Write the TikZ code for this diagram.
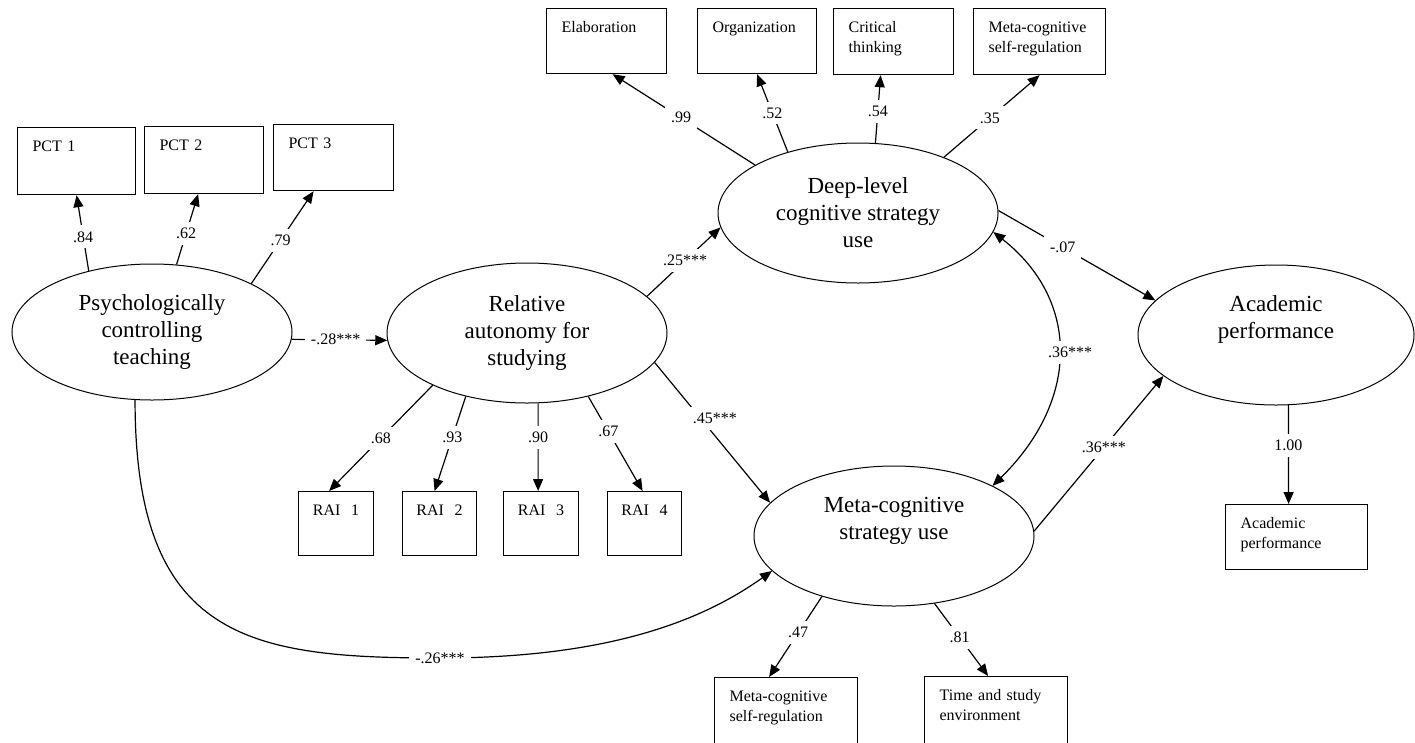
\documentclass[tikz,border=0pt]{standalone}
\usepackage{fontspec}
\setmainfont{Liberation Serif}
\usetikzlibrary{arrows.meta,shapes.geometric}

\begin{document}
\begin{tikzpicture}[
  x=1pt,y=-1pt,
  lat/.style={ellipse,draw,line width=1pt,minimum width=280pt,minimum height=140pt,inner sep=0pt,align=center,font=\fontsize{23}{27}\selectfont},
  obs/.style={draw,line width=1.2pt,anchor=north west,align=left,inner xsep=15pt,inner ysep=0pt,text width=90pt,text height=24pt,text depth=42pt,font=\fontsize{16}{20}\selectfont},
  rai/.style={obs,align=center,inner xsep=5pt,text width=65pt,text depth=40pt},
  arr/.style={-{Triangle[length=12pt,width=10pt]},line width=1.2pt},
  dbl/.style={{Triangle[length=12pt,width=10pt]}-{Triangle[length=12pt,width=10pt]},line width=1.2pt},
  coef/.style={fill=white,inner sep=6pt,font=\fontsize{16}{18}\selectfont}
]
\useasboundingbox (0,0) rectangle (1415,742);

\node[lat,minimum height=136pt] (pct) at (152,332) {Psychologically\\controlling\\teaching};
\node[lat] (ras) at (527,333) {Relative\\autonomy for\\studying};
\node[lat] (deep) at (858,213) {Deep-level\\cognitive strategy\\use};
\node[lat] (meta) at (894,536) {Meta-cognitive\\strategy use\\\strut};
\node[lat,minimum width=276pt] (acad) at (1276,335) {Academic\\performance\\\strut};

\node[obs,text width=88pt,text depth=43pt] (pct1) at (17,127) {PCT 1};
\node[obs,text width=89pt,text depth=43pt] (pct2) at (144,126) {PCT 2};
\node[obs] (pct3) at (273,124) {PCT 3};

\node[obs,text depth=41pt] (elab) at (546,8) {Elaboration};
\node[obs,text width=89pt,text depth=41pt] (orga) at (697,8) {Organization};
\node[obs] (crit) at (833,8) {Critical\\thinking};
\node[obs,text width=102pt] (msr) at (973,8) {Meta-cognitive\\self-regulation};

\node[rai] (rai1) at (298,491) {RAI~~1};
\node[rai,text width=64pt] (rai2) at (402,491) {RAI~~2};
\node[rai] (rai3) at (503,491) {RAI~~3};
\node[rai,text width=64pt] (rai4) at (607,491) {RAI~~4};

\node[obs,text width=113pt,text depth=48pt] (msr2) at (714,677) {Meta-cognitive\\self-regulation};
\node[obs,text width=113pt,text depth=48pt] (tse) at (924,676) {Time and study\\environment};
\node[obs,text width=112pt,text depth=41pt] (perf) at (1225,504) {Academic\\performance};

\draw[arr] (pct.136) -- node[coef,pos=.45]{.84} (pct1.south);
\draw[arr] (pct.70) -- node[coef,pos=.44]{.62} ([xshift=-6pt]pct2.south);
\draw[arr] (pct.26) -- node[coef,pos=.47]{.79} ([xshift=-20pt]pct3.south);
\draw[arr] (pct.-3) -- node[coef,pos=.46]{-.28***} (ras.183);

\draw[arr] (deep.155) -- node[coef,pos=.52]{.99} ([xshift=6pt]elab.south);
\draw[arr] (deep.139) -- node[coef,pos=.5]{.52} (orga.south);
\draw[arr] (deep.76) -- node[coef,pos=.46]{.54} ([xshift=-13pt]crit.south);
\draw[arr] (deep.33) -- node[coef,pos=.48]{.35} (msr.south);

\draw[arr] (ras.209) -- node[coef,pos=.5]{.68} ([xshift=-7pt]rai1.north);
\draw[arr] (ras.226) -- node[coef,pos=.43]{.93} ([xshift=-5pt]rai2.north);
\draw[arr] (ras.279) -- node[coef,pos=.39]{.90} ([xshift=-3pt]rai3.north);
\draw[arr] (ras.314) -- node[coef,pos=.37]{.67} ([xshift=-2pt]rai4.north);

\draw[arr] (ras.17) -- node[coef,pos=.52]{.25***} (deep.186);
\draw[arr] (ras.-13) -- node[coef,pos=.4,xshift=14pt]{.45***} (meta.165);
\draw[arr] (deep.1) -- node[coef,pos=.41]{-.07} (acad.164);
\draw[arr] (meta.2) -- node[coef,pos=.54]{.36***} (acad.200);
\draw[dbl] (deep.-8) .. controls (1080,300) and (1080,400) .. node[coef,pos=.5,xshift=12pt]{.36***} (meta.27);

\draw[arr] (pct.256) .. controls (135,640) and (250,658) .. (440,658) node[coef]{-.26***} .. controls (620,658) and (710,615) .. (meta.196);

\draw[arr] (meta.220) -- node[coef,pos=.45]{.47} ([xshift=-17pt]msr2.north);
\draw[arr] (meta.301) -- node[coef,pos=.47]{.81} ([xshift=-8pt]tse.north);
\draw[arr] (acad.280) -- node[coef,pos=.41]{1.00} ([xshift=-8pt]perf.north);
\end{tikzpicture}
\end{document}
